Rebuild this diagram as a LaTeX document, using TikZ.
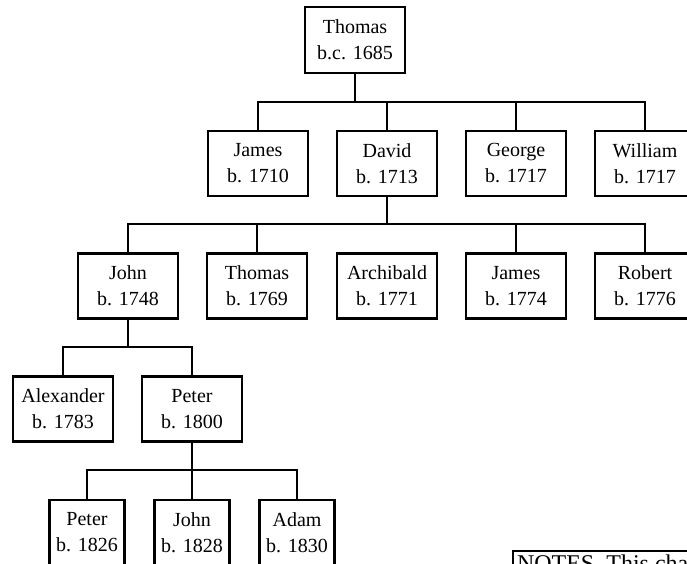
\documentclass[tikz,border=0pt]{standalone}
\usepackage{fontspec}
\setmainfont{Liberation Serif}
\usepackage{tikz}
\usetikzlibrary{positioning, calc}
\tikzset{person/.style={draw, line width=2.5pt, minimum width=100pt, minimum height=65pt, inner sep=0pt, align=center, font=\fontsize{20}{26}\selectfont},
	small person/.style={person, minimum width=75pt},
	kin/.style={line width=2.5pt}}

\begin{document}
\begin{tikzpicture}[x=1pt, y=-1pt]

				\useasboundingbox (0,0) rectangle (687,564);
				\clip (0,0) rectangle (687,564);

				% first generation
				\node [person, minimum height=66pt] (thomas) at (355,40) {Thomas\\b.c. 1685};

				% children of Thomas
				\node [person] (james) at (258,163.5) {James\\b. 1710};
				\node [person] (david) at (387,163.5) {David\\b. 1713};
				\node [person] (george) at (516,163.5) {George\\b. 1717};
				\node [person] (william) at (645,163.5) {William\\b. 1717};

				% children of David
				\node [person] (john) at (128,286) {John\\b. 1748};
				\node [person] (thomasb) at (257,286) {Thomas\\b. 1769};
				\node [person] (archibald) at (387,286) {Archibald\\b. 1771};
				\node [person] (jamesb) at (516,286) {James\\b. 1774};
				\node [person] (robert) at (645,286) {Robert\\b. 1776};

				% children of John
				\node [person] (alexander) at (63,409) {Alexander\\b. 1783};
				\node [person] (peter) at (192,409) {Peter\\b. 1800};

				% children of Peter
				\node [small person] (peterb) at (87,532.5) {Peter\\b. 1826};
				\node [small person] (johnb) at (192,532.5) {John\\b. 1828};
				\node [small person] (adam) at (297,532.5) {Adam\\b. 1830};

				\coordinate (bara) at (355,102);
				\coordinate (barb) at (387,224);
				\coordinate (barc) at (128,347);
				\coordinate (bard) at (192,470);

				\draw [kin] (thomas.south) -- (bara);
				\draw [kin] (james.north) |- (bara) -| (william.north);
				\draw [kin] (david.north) -- (david.north |- bara);
				\draw [kin] (george.north) -- (george.north |- bara);

				\draw [kin] (david.south) -- (barb);
				\draw [kin] (john.north) |- (barb) -| (robert.north);
				\draw [kin] (thomasb.north) -- (thomasb.north |- barb);
				\draw [kin] (jamesb.north) -- (jamesb.north |- barb);

				\draw [kin] (john.south) -- (barc);
				\draw [kin] (alexander.north) |- (barc) -| (peter.north);

				\draw [kin] (peter.south) -- (bard);
				\draw [kin] (peterb.north) |- (bard) -| (adam.north);
				\draw [kin] (johnb.north) -- (johnb.north |- bard);

				\node [draw, line width=2pt, anchor=north west, inner sep=4pt, font=\fontsize{24}{30}\selectfont] (notes) at (512,550) {NOTES. This chart};
\end{tikzpicture}
\end{document}
